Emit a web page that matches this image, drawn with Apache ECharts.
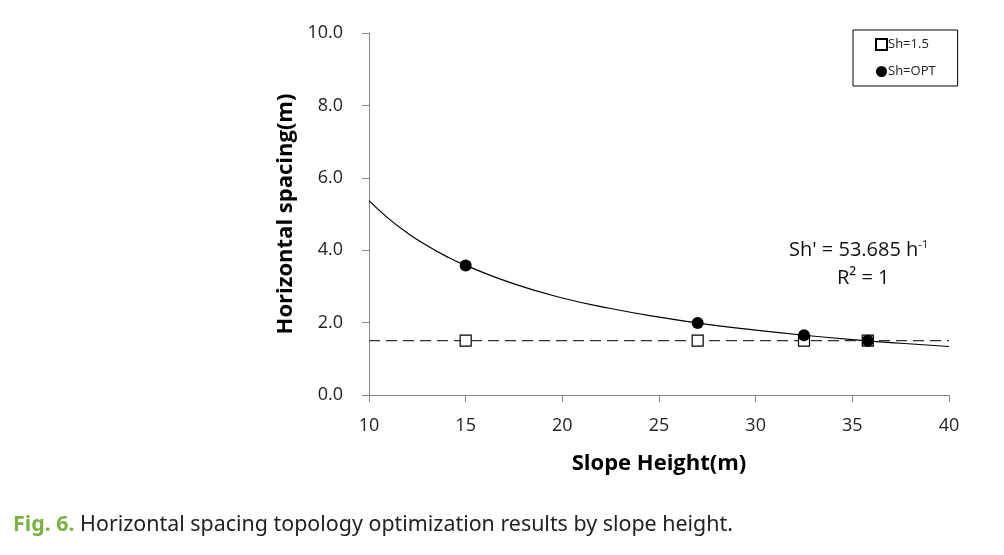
<!DOCTYPE html>
<html>
<head>
<meta charset="utf-8">
<script src="https://cdn.jsdelivr.net/npm/echarts@6/dist/echarts.min.js"></script>
<style>
html,body{margin:0;padding:0;background:#fff;}
#chart{width:1004px;height:555px;}
</style>
</head>
<body>
<div id="chart"></div>
<script>
// Data
var slopeHeights = [15, 27, 32.5, 35.8];
var spacingFixed = [1.5, 1.5, 1.5, 1.5];            // Sh=1.5
var spacingOpt = [3.58, 1.99, 1.65, 1.50];          // Sh=OPT
var trendX = [10, 11, 12, 13, 14, 15, 17.5, 20, 22.5, 25, 27.5, 30, 32.5, 35, 37.5, 40];
var trendY = [5.37, 4.88, 4.47, 4.13, 3.83, 3.58, 3.07, 2.68, 2.39, 2.15, 1.95, 1.79, 1.65, 1.53, 1.43, 1.34];
var refLineX = [10, 40];
var refLineY = [1.5, 1.5];
var xTicks = [10, 15, 20, 25, 30, 35, 40];
var yTicks = [0, 2, 4, 6, 8, 10];

function pairs(xs, ys) { return xs.map(function (x, i) { return [x, ys[i]]; }); }

var labelFont = '"Open Sans", "Noto Sans", sans-serif';
var chart = echarts.init(document.getElementById('chart'), null, {renderer: 'canvas'});
chart.setOption({
  animation: false,
  backgroundColor: '#fff',
  grid: {left: 369, right: 55, top: 33, bottom: 160, containLabel: false},
  xAxis: {
    type: 'value', min: xTicks[0], max: xTicks[xTicks.length - 1], interval: 5,
    name: 'Slope Height(m)', nameLocation: 'middle', nameGap: 58,
    nameTextStyle: {fontFamily: labelFont, fontWeight: 'bold', fontSize: 22, color: '#000'},
    axisLine: {show: true, lineStyle: {color: '#868686', width: 1}},
    axisTick: {show: true, length: 7, lineStyle: {color: '#868686'}},
    axisLabel: {fontFamily: labelFont, fontSize: 18, color: '#222', margin: 22},
    splitLine: {show: false}
  },
  yAxis: {
    type: 'value', min: yTicks[0], max: yTicks[yTicks.length - 1], interval: 2,
    name: 'Horizontal spacing(m)', nameLocation: 'middle', nameGap: 70, nameRotate: 90,
    nameTextStyle: {fontFamily: labelFont, fontWeight: 'bold', fontSize: 22, color: '#000'},
    axisLine: {show: true, lineStyle: {color: '#868686', width: 1}},
    axisTick: {show: true, length: 7, lineStyle: {color: '#868686'}},
    axisLabel: {fontFamily: labelFont, fontSize: 18, color: '#222', margin: 26,
      formatter: function (v) { return v.toFixed(1); }},
    splitLine: {show: false}
  },
  legend: {
    orient: 'vertical', left: 853, top: 30,
    padding: [8, 22, 8, 22], itemGap: 14,
    borderColor: '#000', borderWidth: 1, backgroundColor: '#fff',
    itemWidth: 11, itemHeight: 11,
    textStyle: {fontFamily: labelFont, fontSize: 13, color: '#222', padding: [0, 0, 0, -4]},
    data: ['Sh=1.5', 'Sh=OPT']
  },
  series: [
    {
      name: 'trend', type: 'line', smooth: true, showSymbol: false, symbol: 'none',
      data: pairs(trendX, trendY), lineStyle: {color: '#000', width: 1.2}, z: 2,
      silent: true
    },
    {
      name: 'ref', type: 'line', showSymbol: false, symbol: 'none',
      data: pairs(refLineX, refLineY),
      lineStyle: {color: '#333', width: 1.2, type: [11, 6]}, z: 2, silent: true
    },
    {
      name: 'Sh=1.5', type: 'scatter', symbol: 'rect', symbolSize: 11,
      data: pairs(slopeHeights, spacingFixed),
      itemStyle: {color: '#fff', borderColor: '#000', borderWidth: 1.2, opacity: 1}, z: 3
    },
    {
      name: 'Sh=OPT', type: 'scatter', symbol: 'circle', symbolSize: 12,
      data: pairs(slopeHeights, spacingOpt),
      itemStyle: {color: '#000', opacity: 1}, z: 4
    }
  ],
  graphic: [
    {
      type: 'text', left: 789, top: 239,
      style: {
        text: "Sh' = 53.685 h{sup|-1}",
        font: '20px ' + labelFont, fill: '#111',
        rich: {sup: {fontSize: 11, fontFamily: labelFont, fill: '#111', verticalAlign: 'top', padding: [0, 0, 12, 0]}}
      }
    },
    {
      type: 'text', left: 837, top: 268,
      style: {text: 'R\u00B2 = 1', font: '20px ' + labelFont, fill: '#111'}
    },
    {
      type: 'text', left: 13, top: 514, scaleX: 0.973,
      style: {
        text: '{fig|Fig. 6.} Horizontal spacing topology optimization results by slope height.',
        font: '22px "Noto Sans", sans-serif', fill: '#222',
        rich: {fig: {fontFamily: '"Noto Sans", sans-serif', fontSize: 22, fontWeight: 'bold', fill: '#7ab342'}}
      }
    }
  ]
});
</script>
</body>
</html>
